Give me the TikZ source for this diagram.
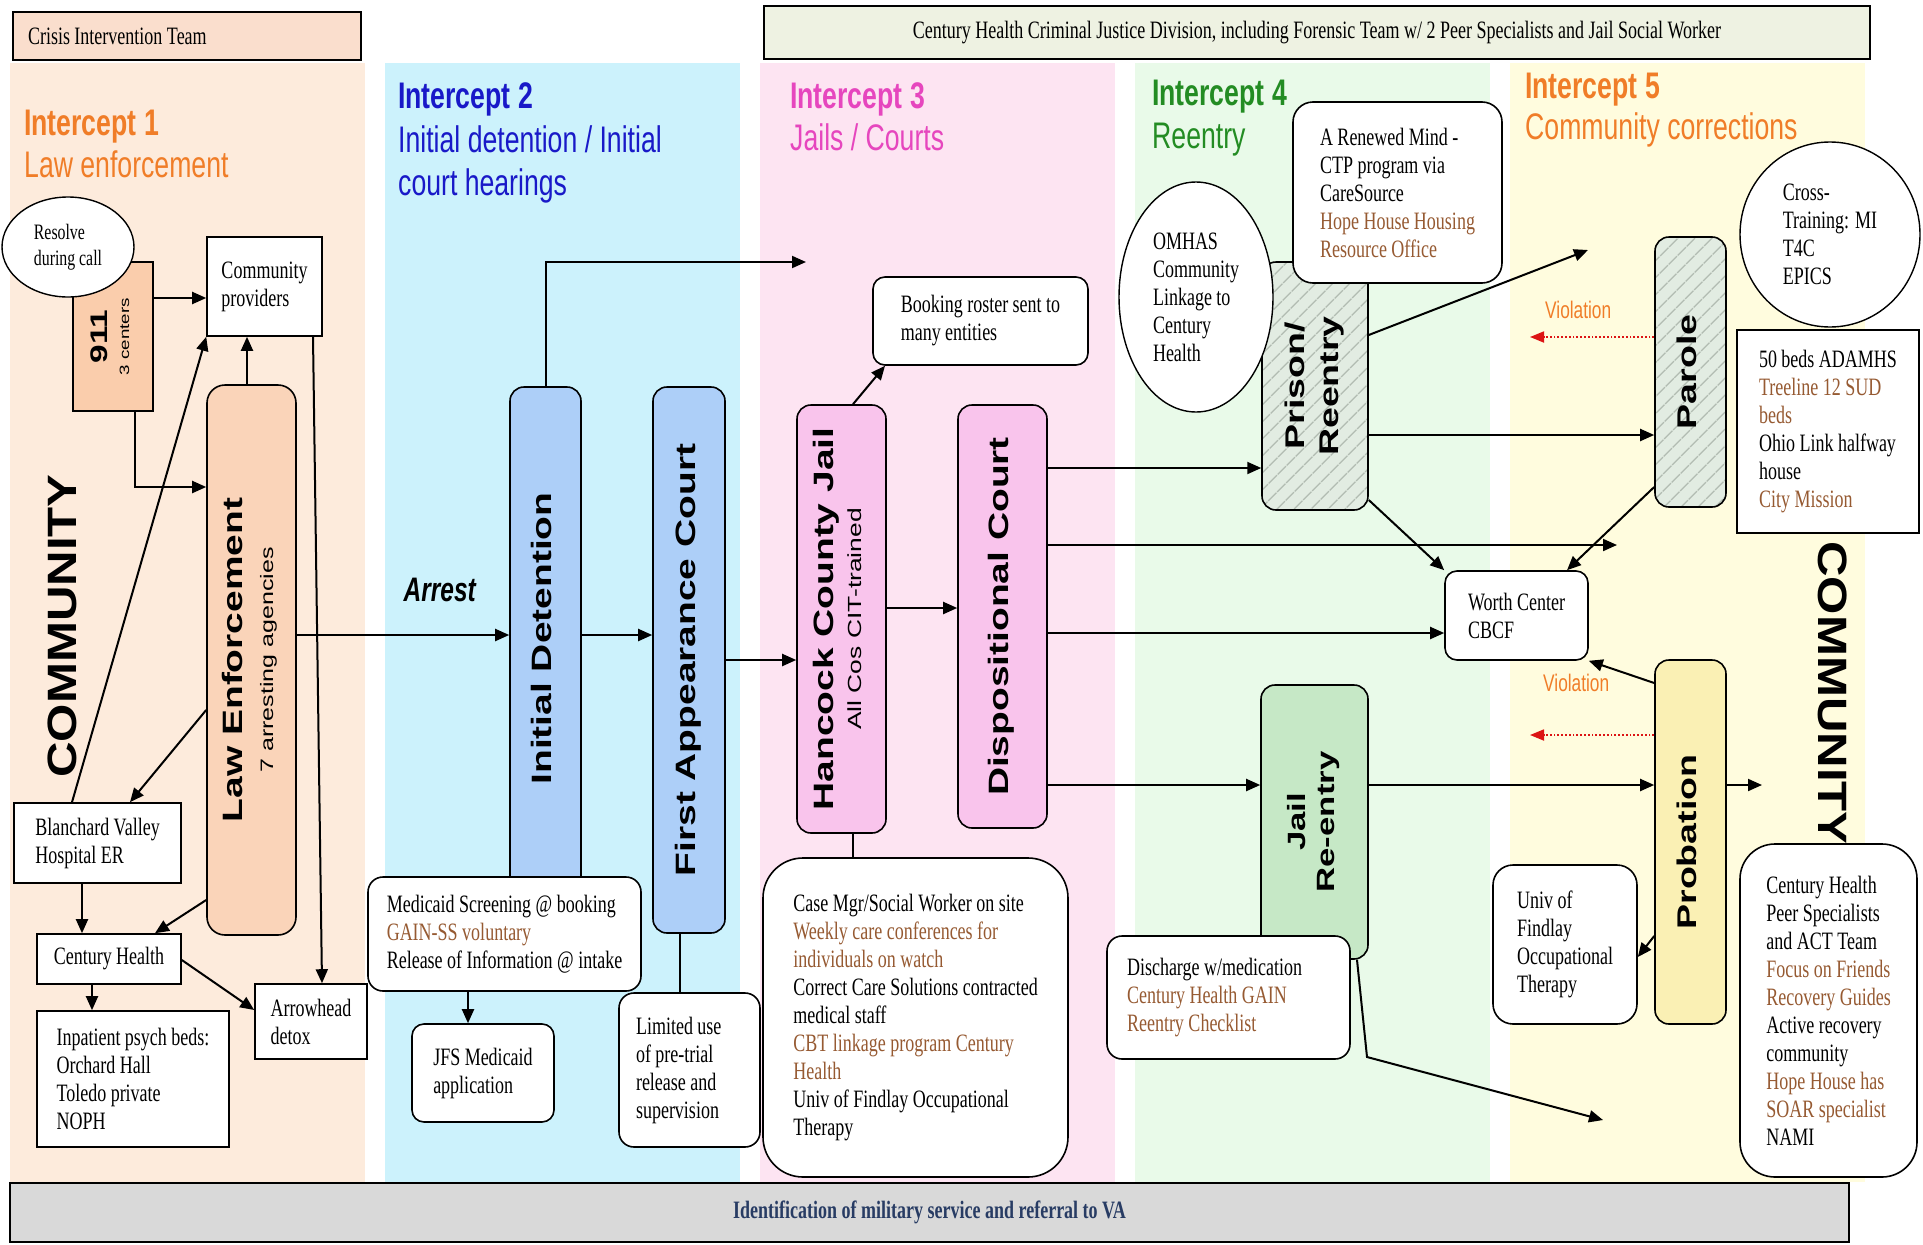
\documentclass[tikz,border=0pt]{standalone}
\usepackage{fontspec}
\setmainfont{Liberation Serif}[FakeStretch=0.72]
\setsansfont{Liberation Sans}[FakeStretch=0.72]
\newfontfamily\rotsf{Liberation Sans}[FakeStretch=1.39]
\newfontfamily\commsf{Liberation Sans}[FakeStretch=1.2]
\usepackage{graphicx}
\usetikzlibrary{arrows.meta,shapes.geometric,patterns.meta}

\definecolor{bgpeach}{RGB}{253,235,220}
\definecolor{bgcyan}{RGB}{204,242,252}
\definecolor{bgpink}{RGB}{253,228,242}
\definecolor{bggreen}{RGB}{233,250,233}
\definecolor{bgyellow}{RGB}{255,252,222}
\definecolor{critfill}{RGB}{250,222,205}
\definecolor{chfill}{RGB}{238,242,226}
\definecolor{barfill}{RGB}{217,217,217}
\definecolor{bartxt}{RGB}{40,60,100}
\definecolor{fill911}{RGB}{250,205,172}
\definecolor{lefill}{RGB}{250,212,185}
\definecolor{bluefill}{RGB}{173,207,248}
\definecolor{pinkfill}{RGB}{249,196,236}
\definecolor{greenfill}{RGB}{198,232,198}
\definecolor{yelfill}{RGB}{250,240,180}
\definecolor{hatchbg}{RGB}{226,236,226}
\definecolor{hatchln}{RGB}{178,188,178}
\definecolor{txtbrown}{RGB}{150,90,50}
\definecolor{orange1}{RGB}{240,125,40}
\definecolor{blue2}{RGB}{25,25,200}
\definecolor{mag3}{RGB}{230,70,190}
\definecolor{green4}{RGB}{35,140,35}
\definecolor{vred}{RGB}{220,20,20}

\newcommand\bodyfont{\fontsize{25}{28}\selectfont}
\newcommand\headfont{\fontsize{37}{43}\selectfont\sffamily}
\newcommand\brn[1]{\textcolor{txtbrown}{#1}}
\newcommand\vlabel[1]{\rotatebox{90}{\begin{tabular}{@{}c@{}}#1\end{tabular}}}

\begin{document}
\begin{tikzpicture}[
  x=1pt, y=-1pt,
  every node/.style={inner sep=0pt},
  box/.style={draw, line width=1.6pt, fill=white, align=flush left, font=\bodyfont},
  rbox/.style={box, rounded corners=#1},
  rbox/.default=14pt,
  sz/.style 2 args={minimum width=#1pt, minimum height=#2pt},
  oval/.style={box, ellipse, line width=1.4pt},
  vbox/.style={draw, line width=1.6pt, rounded corners=14pt},
  hatch/.style={draw, line width=1.6pt, rounded corners=14pt,
    preaction={fill=hatchbg},
    pattern={Lines[angle=45, distance=13pt, line width=1.5pt]}, pattern color=hatchln},
  head/.style={anchor=base west, font=\headfont},
  arrow/.style={-{Triangle[length=14pt, width=12pt]}, line width=2pt},
  link/.style={line width=1.6pt},
  viol/.style={-{Triangle[length=14pt, width=11pt]}, draw=vred, dotted, line width=1.8pt}
]
\useasboundingbox (0,0) rectangle (1923,1245);
\fill[white] (0,0) rectangle (1923,1245);

% columns
\fill[bgpeach] (10,63) rectangle (365,1182);
\fill[bgcyan] (385,63) rectangle (740,1182);
\fill[bgpink] (760,63) rectangle (1115,1182);
\fill[bggreen] (1135,63) rectangle (1490,1182);
\fill[bgyellow] (1510,63) rectangle (1865,1182);

% banners
\node[box, fill=critfill, sz={348}{48}, text width=318pt] (crit) at (187,36) {Crisis Intervention Team};
\node[box, fill=chfill, sz={1106}{53}, align=center] (chtop) at (1317,32.5) {Century Health Criminal Justice Division, including Forensic Team w/ 2 Peer Specialists and Jail Social Worker};
\node[box, fill=barfill, sz={1839}{59}, align=center, text=bartxt, font=\fontsize{25}{28}\selectfont\bfseries] (vabar) at (929.5,1212.5) {Identification of military service and referral to VA};

% headings
\node[head, text=orange1, font=\headfont\bfseries] (h1) at (24,135) {Intercept 1};
\node[head, text=orange1] (h1s) at (24,177) {Law enforcement};
\node[head, text=blue2, font=\headfont\bfseries] (h2) at (398,108) {Intercept 2};
\node[head, text=blue2] (h2s) at (398,152) {Initial detention / Initial};
\node[head, text=blue2] (h2t) at (398,195) {court hearings};
\node[head, text=mag3, font=\headfont\bfseries] (h3) at (790,108) {Intercept 3};
\node[head, text=mag3] (h3s) at (790,150) {Jails / Courts};
\node[head, text=green4, font=\headfont\bfseries] (h4) at (1152,105) {Intercept 4};
\node[head, text=green4] (h4s) at (1152,148) {Reentry};
\node[head, text=orange1, font=\headfont\bfseries] (h5) at (1525,98) {Intercept 5};
\node[head, text=orange1] (h5s) at (1525,139) {Community corrections};

% intercept 1
\node[box, fill=fill911, line width=1.2pt, sz={80}{149}, font=\fontsize{24}{22}\selectfont\rotsf\bfseries] (n911) at (113,336.5)
  {\vlabel{911\\{\mdseries\fontsize{13.5}{13.5}\selectfont 3 centers}}};
\node[oval, sz={132}{100}, font=\fontsize{22}{26}\selectfont] (resolve) at (68,247) {Resolve\\during call};
\node[box, sz={115}{99}] (cp) at (264.5,286.5) {Community\\providers};
\node[vbox, fill=lefill, sz={89}{550}, rounded corners=18pt, font=\fontsize{28}{31}\selectfont\rotsf\bfseries] (le) at (251.5,660)
  {\vlabel{Law Enforcement\\{\mdseries\fontsize{18}{18}\selectfont 7 arresting agencies}}};
\node[box, sz={167}{80}] (bv) at (97.5,843) {Blanchard Valley\\Hospital ER};
\node[box, sz={144}{50}] (ch) at (109,959) {Century Health};
\node[box, sz={192}{136}] (ip) at (133,1079) {Inpatient psych beds:\\Orchard Hall\\Toledo private\\NOPH};
\node[box, sz={112}{75}] (ad) at (311,1021.5) {Arrowhead\\detox};
\node[rotate=90, font=\commsf\bfseries\fontsize{41}{41}\selectfont] (commL) at (62,626) {COMMUNITY};

% intercept 2
\node[vbox, fill=bluefill, sz={71}{503}, font=\fontsize{28}{31}\selectfont\rotsf\bfseries] (idet) at (545.5,638.5) {\vlabel{Initial Detention}};
\node[vbox, fill=bluefill, sz={72}{546}, font=\fontsize{28}{31}\selectfont\rotsf\bfseries] (fac) at (689,660) {\vlabel{First Appearance Court}};
\node[rbox=15pt, sz={273}{114}] (med) at (504.5,934) {Medicaid Screening @ booking\\\brn{GAIN-SS voluntary}\\Release of Information @ intake};
\node[rbox=12pt, sz={142}{98}] (jfs) at (483,1073) {JFS Medicaid\\application};
\node[rbox=15pt, sz={141}{154}, text width=107pt] (lim) at (689.5,1070) {Limited use\\of pre-trial\\release and\\supervision};

% intercept 3
\node[vbox, fill=pinkfill, sz={89}{428}, font=\fontsize{28}{28}\selectfont\rotsf\bfseries] (hcj) at (841.5,619)
  {\vlabel{Hancock County Jail\\{\mdseries\fontsize{19}{19}\selectfont All Cos CIT-trained}}};
\node[rbox=12pt, sz={215}{88}] (book) at (980.5,321) {Booking roster sent to\\many entities};
\node[vbox, fill=pinkfill, sz={89}{423}, font=\fontsize{28}{31}\selectfont\rotsf\bfseries] (disp) at (1002.5,616.5) {\vlabel{Dispositional Court}};
\node[rbox=40pt, sz={305}{319}] (cmgr) at (915.5,1017.5) {Case Mgr/Social Worker on site\\\brn{Weekly care conferences for}\\\brn{individuals on watch}\\Correct Care Solutions contracted\\medical staff\\\brn{CBT linkage program Century}\\\brn{Health}\\Univ of Findlay Occupational\\Therapy};

% intercept 4
\node[hatch, sz={106}{248}, font=\fontsize{27}{34}\selectfont\rotsf\bfseries] (prison) at (1315,386) {\vlabel{Prison/\\Reentry}};
\node[oval, sz={154}{230}] (omhas) at (1196,297) {OMHAS\\Community\\Linkage to\\Century\\Health};
\node[rbox=20pt, sz={209}{181}] (renew) at (1397.5,192.5) {A Renewed Mind -\\CTP program via\\CareSource\\\brn{Hope House Housing}\\\brn{Resource Office}};
\node[rbox=12pt, sz={143}{89}] (worth) at (1516.5,615.5) {Worth Center\\CBCF};
\node[vbox, fill=greenfill, sz={107}{274}, font=\fontsize{25}{29}\selectfont\rotsf\bfseries] (jre) at (1314.5,822) {\vlabel{Jail\\Re-entry}};
\node[rbox=15pt, sz={243}{123}, text width=203pt] (disc) at (1228.5,997.5) {Discharge w/medication\\\brn{Century Health GAIN}\\\brn{Reentry Checklist}};

% intercept 5
\node[hatch, sz={71}{270}, font=\fontsize{27}{30}\selectfont\rotsf\bfseries] (parole) at (1690.5,372) {\vlabel{Parole}};
\node[vbox, fill=yelfill, sz={71}{364}, font=\fontsize{27}{30}\selectfont\rotsf\bfseries] (prob) at (1690.5,842) {\vlabel{Probation}};
\node[oval, sz={180}{185}] (cross) at (1830,234.5) {Cross-\\Training: MI\\T4C\\EPICS};
\node[box, sz={182}{203}] (beds) at (1828,431.5) {50 beds ADAMHS\\\brn{Treeline 12 SUD}\\\brn{beds}\\Ohio Link halfway\\house\\\brn{City Mission}};
\node[rbox=20pt, sz={144}{159}] (univ) at (1565,944.5) {Univ of\\Findlay\\Occupational\\Therapy};
\node[rbox=35pt, sz={177}{333}] (chpeer) at (1828.5,1010.5) {Century Health\\Peer Specialists\\and ACT Team\\\brn{Focus on Friends}\\\brn{Recovery Guides}\\Active recovery\\community\\\brn{Hope House has}\\\brn{SOAR specialist}\\NAMI};
\node[rotate=-90, font=\commsf\bfseries\fontsize{41}{41}\selectfont] (commR) at (1833,693) {COMMUNITY};
\node[anchor=base west, text=orange1, font=\fontsize{24}{24}\selectfont\sffamily] (viol1lbl) at (1545,318) {Violation};
\node[anchor=base west, text=orange1, font=\fontsize{24}{24}\selectfont\sffamily] (viol2lbl) at (1543,691) {Violation};

% free ends
\coordinate (tojail) at (806,262);
\coordinate (tocomm) at (1617,545);
\coordinate (toup) at (1588,250);
\coordinate (jrebend) at (1367,1057);
\coordinate (tolow) at (1603,1120);
\coordinate (viol1) at (1530,337);
\coordinate (viol2) at (1530,735);
\coordinate (toout) at (1762,785);

% connectors, intercept 1
\draw[arrow] (n911.east |- 0,298) -- (cp.west |- 0,298);
\draw[arrow] (n911.south -| 135,0) |- (le.west |- 0,487);
\draw[arrow] (le.north -| 247,0) -- (cp.south -| 247,0);
\draw[arrow] (bv.north -| 72,0) -- (cp.south west);
\draw[arrow] (le.west |- 0,710) -- (bv.north -| 130,0);
\draw[arrow] (cp.south -| 313,0) -- (ad.north -| 322,0);
\draw[arrow] (bv.south -| 82,0) -- (ch.north -| 82,0);
\draw[arrow] (le.west |- 0,900) -- (ch.north -| 155,0);
\draw[arrow] (ch.south -| 92,0) -- (ip.north -| 92,0);
\draw[arrow] (ch.east |- 0,960) -- (ad.west |- 0,1010);
\draw[arrow] (le.east |- 0,635) -- node[pos=0.673, above=32pt, font=\fontsize{34}{34}\selectfont\sffamily\bfseries\itshape] (arrest) {Arrest} (idet.west |- 0,635);

% intercept 2
\draw[arrow] (idet.north) |- (tojail);
\draw[arrow] (idet.east |- 0,635) -- (fac.west |- 0,635);
\draw[arrow] (fac.east |- 0,660) -- (hcj.west |- 0,660);
\draw[arrow] (med.south -| 468,0) -- (jfs.north -| 468,0);
\draw[link] (fac.south -| 680,0) -- (lim.north -| 680,0);

% intercept 3
\draw[arrow] (hcj.north -| 853,0) -- (book.south -| 885,0);
\draw[arrow] (hcj.east |- 0,608) -- (disp.west |- 0,608);
\draw[link] (hcj.south -| 853,0) -- (cmgr.north -| 853,0);
\draw[arrow] (disp.east |- 0,468) -- (prison.west |- 0,468);
\draw[arrow] (disp.east |- 0,545) -- (tocomm);
\draw[arrow] (disp.east |- 0,633) -- (worth.west |- 0,633);
\draw[arrow] (disp.east |- 0,785) -- (jre.west |- 0,785);

% intercept 4
\draw[arrow] (prison.east |- 0,335) -- (toup);
\draw[arrow] (prison.east |- 0,435) -- (parole.west |- 0,435);
\draw[arrow] (prison.east |- 0,500) -- (worth.north west);
\draw[arrow] (jre.east |- 0,785) -- (prob.west |- 0,785);
\draw[arrow] (jre.south -| 1357,0) -- (jrebend) -- (tolow);

% intercept 5
\draw[viol] (parole.west |- 0,337) -- (viol1);
\draw[viol] (prob.west |- 0,735) -- (viol2);
\draw[arrow] (parole.west |- 0,487) -- (worth.north -| 1567,0);
\draw[arrow] (prob.west |- 0,683) -- (worth.south east);
\draw[arrow] (prob.east |- 0,785) -- (toout);
\draw[arrow] (prob.west |- 0,936) -- (univ.east |- 0,957);
\end{tikzpicture}
\end{document}
